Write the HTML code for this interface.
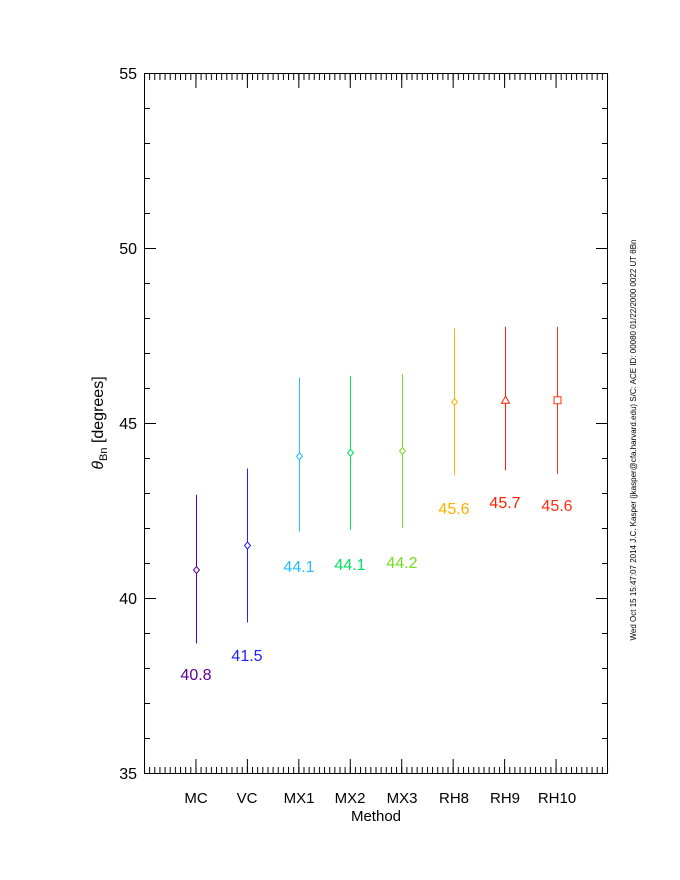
<!DOCTYPE html>
<html><head><meta charset="utf-8"><style>body{margin:0;background:#fff}svg{display:block}text{font-family:"Liberation Sans",sans-serif}</style></head><body>
<svg width="680" height="880" xmlns="http://www.w3.org/2000/svg">
<defs>
<pattern id="xm" x="144" y="0" width="5.14444" height="20" patternUnits="userSpaceOnUse"><rect x="0" y="0" width="1" height="20" fill="#000"/></pattern>
<pattern id="xM" x="144" y="0" width="51.4444" height="20" patternUnits="userSpaceOnUse"><rect x="0" y="0" width="1" height="20" fill="#000"/></pattern>
<pattern id="ym" x="0" y="73" width="20" height="35" patternUnits="userSpaceOnUse"><rect x="0" y="0" width="20" height="1" fill="#000"/></pattern>
<pattern id="yM" x="0" y="73" width="20" height="175" patternUnits="userSpaceOnUse"><rect x="0" y="0" width="20" height="1" fill="#000"/></pattern>
</defs>
<rect width="680" height="880" fill="#fff"/>
<rect x="144" y="767" width="465" height="6" fill="url(#xm)"/>
<rect x="144" y="74" width="465" height="6" fill="url(#xm)"/>
<rect x="144" y="759" width="465" height="14" fill="url(#xM)"/>
<rect x="144" y="74" width="465" height="14" fill="url(#xM)"/>
<rect x="144" y="73" width="6" height="702" fill="url(#ym)"/>
<rect x="602" y="73" width="6" height="702" fill="url(#ym)"/>
<rect x="144" y="73" width="12" height="702" fill="url(#yM)"/>
<rect x="596" y="73" width="12" height="702" fill="url(#yM)"/>
<rect x="144.5" y="73.5" width="463" height="700" fill="none" stroke="#000"/>
<g font-size="16" text-anchor="end" fill="#000">
<text x="137" y="779">35</text><text x="137" y="604">40</text><text x="137" y="429">45</text><text x="137" y="254">50</text><text x="137" y="79">55</text>
</g>
<g font-size="15" text-anchor="middle" fill="#000">
<text x="196" y="803">MC</text><text x="247" y="803">VC</text><text x="299" y="803">MX1</text><text x="350" y="803">MX2</text><text x="402" y="803">MX3</text><text x="454" y="803">RH8</text><text x="505" y="803">RH9</text><text x="557" y="803">RH10</text>
<text x="376" y="821">Method</text>
</g>
<text transform="translate(103,423) rotate(-90)" font-size="16" text-anchor="middle"><tspan font-style="italic">θ</tspan><tspan font-size="11" dy="4">Bn</tspan><tspan dy="-4"> [degrees]</tspan></text>
<text transform="translate(636,440) rotate(-90)" font-size="8" text-anchor="middle">Wed Oct 15 15:47:07 2014   J.C. Kasper (jkasper@cfa.harvard.edu)   S/C: ACE ID: 00080 01/22/2000  0022 UT θBn</text>
<g fill="#fff" font-size="16" text-anchor="middle">
<line x1="196.5" y1="643.5" x2="196.5" y2="494.75" stroke="#600090"/>
<polygon points="196.5,566.5 199.5,570 196.5,573.5 193.5,570" stroke="#600090"/>
<text x="196" y="680" fill="#600090">40.8</text>
<line x1="247.5" y1="622.5" x2="247.5" y2="468.5" stroke="#2020ff"/>
<polygon points="247.5,542 250.5,545.5 247.5,549 244.5,545.5" stroke="#2020ff"/>
<text x="247" y="661" fill="#2020ff">41.5</text>
<line x1="299.5" y1="531.5" x2="299.5" y2="377.5" stroke="#20c0ff"/>
<polygon points="299.5,452.75 302.5,456.25 299.5,459.75 296.5,456.25" stroke="#20c0ff"/>
<text x="299" y="572" fill="#20c0ff">44.1</text>
<line x1="350.5" y1="529.75" x2="350.5" y2="375.75" stroke="#00e060"/>
<polygon points="350.5,449.25 353.5,452.75 350.5,456.25 347.5,452.75" stroke="#00e060"/>
<text x="350" y="570" fill="#00e060">44.1</text>
<line x1="402.5" y1="528" x2="402.5" y2="374" stroke="#70e020"/>
<polygon points="402.5,447.5 405.5,451 402.5,454.5 399.5,451" stroke="#70e020"/>
<text x="402" y="568" fill="#70e020">44.2</text>
<line x1="454.5" y1="475.5" x2="454.5" y2="328.5" stroke="#ffb000"/>
<polygon points="454.5,398.5 457.5,402 454.5,405.5 451.5,402" stroke="#ffb000"/>
<text x="454" y="514" fill="#ffb000">45.6</text>
<line x1="505.5" y1="470.25" x2="505.5" y2="326.75" stroke="#ff2000"/>
<polygon points="505.5,396.25 509.5,403.25 501.5,403.25" stroke="#ff2000"/>
<text x="505" y="508" fill="#ff2000">45.7</text>
<line x1="557.5" y1="473.75" x2="557.5" y2="326.75" stroke="#ff3010"/>
<rect x="554" y="396.75" width="7" height="7" stroke="#ff3010"/>
<text x="557" y="511" fill="#ff3010">45.6</text>
</g>
</svg>
</body></html>
